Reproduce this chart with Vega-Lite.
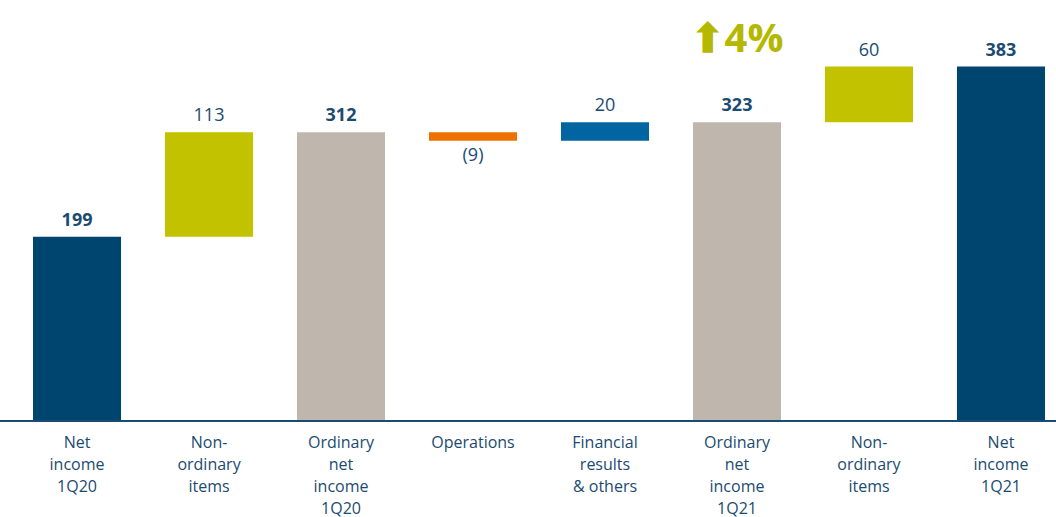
{
  "$schema": "https://vega.github.io/schema/vega-lite/v6.json",
  "width": 1056,
  "height": 421,
  "autosize": {"type": "none"},
  "padding": {"left": 0, "top": 0, "right": 0, "bottom": 96},
  "background": "white",
  "config": {"view": {"stroke": null}, "font": "Open Sans"},
  "data": {"values": [
    {"cat": "Net|income|1Q20", "start": 0, "end": 199, "label": "199", "kind": "net", "total": true},
    {"cat": "Non-|ordinary|items", "start": 199, "end": 312, "label": "113", "kind": "nonord", "total": false},
    {"cat": "Ordinary|net|income|1Q20", "start": 0, "end": 312, "label": "312", "kind": "ordinary", "total": true},
    {"cat": "Operations", "start": 312, "end": 303, "label": "(9)", "kind": "neg", "total": false},
    {"cat": "Financial|results|& others", "start": 303, "end": 323, "label": "20", "kind": "pos", "total": false},
    {"cat": "Ordinary|net|income|1Q21", "start": 0, "end": 323, "label": "323", "kind": "ordinary", "total": true},
    {"cat": "Non-|ordinary|items ", "start": 323, "end": 383, "label": "60", "kind": "nonord", "total": false},
    {"cat": "Net|income|1Q21", "start": 0, "end": 383, "label": "383", "kind": "net", "total": true}
  ]},
  "encoding": {
    "x": {
      "field": "cat", "type": "nominal", "sort": null,
      "scale": {"range": [11, 1067], "paddingInner": 0.333, "paddingOuter": 0.1667},
      "axis": {
        "title": null, "domain": false, "ticks": false, "labelAngle": 0,
        "labelExpr": "split(datum.label, '|')",
        "labelFontSize": 16, "labelLineHeight": 22, "labelColor": "#1B4B70",
        "labelPadding": 13, "labelBaseline": "top", "labelFont": "Open Sans"
      }
    }
  },
  "layer": [
    {
      "mark": {"type": "bar"},
      "encoding": {
        "y": {"field": "start", "type": "quantitative", "scale": {"domain": [0, 455], "nice": false, "zero": true}, "axis": null},
        "y2": {"field": "end"},
        "color": {
          "field": "kind", "type": "nominal", "legend": null,
          "scale": {"domain": ["net", "nonord", "ordinary", "neg", "pos"],
                    "range": ["#004470", "#C2C200", "#BFB7AE", "#EE7100", "#0065A1"]}
        }
      }
    },
    {
      "transform": [{"filter": "datum.total"}],
      "mark": {"type": "text", "baseline": "alphabetic", "dy": -11, "fontSize": 18, "fontWeight": "bold", "color": "#1B4B70"},
      "encoding": {
        "y": {"field": "end", "type": "quantitative"},
        "text": {"field": "label"}
      }
    },
    {
      "transform": [{"filter": "!datum.total && datum.end >= datum.start"}],
      "mark": {"type": "text", "baseline": "alphabetic", "dy": -11, "fontSize": 18, "color": "#1B4B70"},
      "encoding": {
        "y": {"field": "end", "type": "quantitative"},
        "text": {"field": "label"}
      }
    },
    {
      "transform": [{"filter": "datum.end < datum.start"}],
      "mark": {"type": "text", "baseline": "top", "dy": 6, "fontSize": 18, "color": "#1B4B70"},
      "encoding": {
        "y": {"field": "end", "type": "quantitative"},
        "text": {"field": "label"}
      }
    },
    {
      "transform": [{"filter": "datum.cat == 'Ordinary|net|income|1Q21'"}],
      "mark": {"type": "text", "text": "⬆4%", "fontSize": 40, "color": "#B5B800", "baseline": "middle", "align": "center", "fontWeight": "bold"},
      "encoding": {"y": {"datum": 412, "type": "quantitative"}}
    },
    {
      "mark": {"type": "rule", "color": "#1B4B70", "strokeWidth": 1.5},
      "encoding": {"y": {"datum": 0, "type": "quantitative"}, "x": null}
    }
  ]
}
